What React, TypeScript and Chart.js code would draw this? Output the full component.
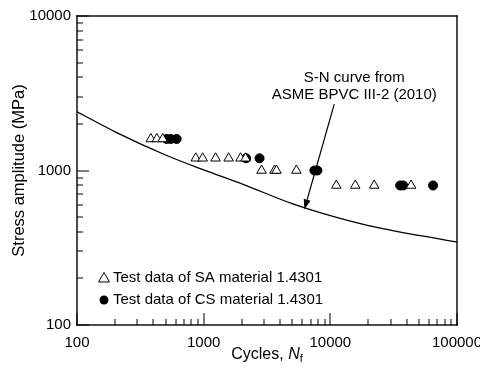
import React, { useEffect, useRef } from 'react';
import { Chart, registerables } from 'chart.js';
Chart.register(...registerables);

// ---- Data ----
const saCycles = [383, 427, 475, 866, 982, 1242, 1574, 1955, 2141, 2864, 3625, 3758, 5397, 11150, 15730, 22200, 43400];
const saStress = [1600, 1600, 1600, 1200, 1200, 1200, 1200, 1200, 1200, 1000, 1000, 1000, 1000, 800, 800, 800, 800];

const csCycles = [511, 550, 612, 2163, 2762, 7480, 7906, 35600, 37600, 64700];
const csStress = [1600, 1600, 1600, 1200, 1200, 1000, 1000, 800, 800, 800];

const curveCycles = [100, 200, 500, 1000, 2000, 5000, 10000, 20000, 50000, 100000];
const curveStress = [2400, 1780, 1260, 1010, 820, 610, 510, 440, 380, 345];

const xMajorTicks = [100, 1000, 10000, 100000];
const yMajorTicks = [100, 1000, 10000];

const saLabel = 'Test data of SA material 1.4301';
const csLabel = 'Test data of CS material 1.4301';
const noteLines = ['S-N curve from', 'ASME BPVC III-2 (2010)'];
const noteAnchorN = 15450;
const arrowTail = { n: 10740, s: 2692 };
const arrowTip = { n: 6240, s: 560 };

const FONT = "Arial, 'Liberation Sans', sans-serif";

const decorPlugin = {
  id: 'decor',
  afterDraw(chart: any) {
    const ctx: CanvasRenderingContext2D = chart.ctx;
    const ca = chart.chartArea;
    const left = ca.left, right = ca.right, top = ca.top, bottom = ca.bottom;
    const x = chart.scales.x;
    const y = chart.scales.y;
    ctx.save();
    ctx.strokeStyle = '#000000';
    ctx.fillStyle = '#000000';

    // frame as filled bars
    const lw = 1.4;
    ctx.fillRect(left - lw / 2, top - lw / 2, right - left + lw, lw);
    ctx.fillRect(left - lw / 2, bottom - lw / 2, right - left + lw, lw);
    ctx.fillRect(left - lw / 2, top - lw / 2, lw, bottom - top + lw);
    ctx.fillRect(right - lw / 2, top - lw / 2, lw, bottom - top + lw);

    // inward ticks as filled bars
    for (let e = 2; e <= 5; e++) {
      for (let m = 1; m <= 9; m++) {
        const v = m * Math.pow(10, e);
        if (v > 100000) break;
        const px = Math.round(x.getPixelForValue(v));
        const len = m === 1 ? 12 : 6;
        ctx.fillRect(px - 0.5, bottom - len, 1, len);
      }
    }
    for (let e = 2; e <= 4; e++) {
      for (let m = 1; m <= 9; m++) {
        const v = m * Math.pow(10, e);
        if (v > 10000) break;
        const py = Math.round(y.getPixelForValue(v));
        const len = m === 1 ? 12 : 6;
        ctx.fillRect(left, py - 0.5, len, 1);
      }
    }

    // axis titles
    const t1 = 'Cycles, ';
    const t2 = 'N';
    const t3 = 'f';
    ctx.font = `16px ${FONT}`;
    const w1 = ctx.measureText(t1).width;
    ctx.font = `italic 16px ${FONT}`;
    const w2 = ctx.measureText(t2).width;
    ctx.font = `11px ${FONT}`;
    const w3 = ctx.measureText(t3).width;
    const cx = (left + right) / 2;
    const sx = cx - (w1 + w2 + w3) / 2;
    const by = 359;
    ctx.textAlign = 'left';
    ctx.textBaseline = 'alphabetic';
    ctx.font = `16px ${FONT}`;
    ctx.fillText(t1, sx, by);
    ctx.font = `italic 16px ${FONT}`;
    ctx.fillText(t2, sx + w1, by);
    ctx.font = `11px ${FONT}`;
    ctx.fillText(t3, sx + w1 + w2, by + 3);

    ctx.save();
    ctx.translate(19, (top + bottom) / 2);
    ctx.rotate(-Math.PI / 2);
    ctx.font = `16.5px ${FONT}`;
    ctx.textAlign = 'center';
    ctx.textBaseline = 'middle';
    ctx.fillText('Stress amplitude (MPa)', 0, 0);
    ctx.restore();

    // legend
    const lx = left + 27;
    const rows = [
      { y: bottom - 47, label: saLabel, tri: true },
      { y: bottom - 25, label: csLabel, tri: false },
    ];
    ctx.font = `15px ${FONT}`;
    ctx.textAlign = 'left';
    ctx.textBaseline = 'middle';
    rows.forEach((r) => {
      ctx.lineWidth = 1;
      if (r.tri) {
        ctx.beginPath();
        ctx.moveTo(lx, r.y - 5.5);
        ctx.lineTo(lx + 5.5, r.y + 4);
        ctx.lineTo(lx - 5.5, r.y + 4);
        ctx.closePath();
        ctx.stroke();
      } else {
        ctx.beginPath();
        ctx.arc(lx, r.y, 4.5, 0, Math.PI * 2);
        ctx.fill();
      }
      ctx.fillText(r.label, lx + 9, r.y);
    });

    // annotation text
    const tx = x.getPixelForValue(noteAnchorN);
    ctx.font = `15px ${FONT}`;
    ctx.textAlign = 'center';
    ctx.textBaseline = 'middle';
    ctx.fillText(noteLines[0], tx, 78);
    ctx.fillText(noteLines[1], tx, 95);

    // arrow
    const ax0 = x.getPixelForValue(arrowTail.n);
    const ay0 = y.getPixelForValue(arrowTail.s);
    const ax1 = x.getPixelForValue(arrowTip.n);
    const ay1 = y.getPixelForValue(arrowTip.s);
    const ang = Math.atan2(ay1 - ay0, ax1 - ax0);
    const hl = 10, hw = 3.5;
    const bx = ax1 - hl * Math.cos(ang);
    const byy = ay1 - hl * Math.sin(ang);
    ctx.lineWidth = 1.2;
    ctx.beginPath();
    ctx.moveTo(ax0, ay0);
    ctx.lineTo(bx, byy);
    ctx.stroke();
    ctx.beginPath();
    ctx.moveTo(ax1, ay1);
    ctx.lineTo(bx + hw * Math.sin(ang), byy - hw * Math.cos(ang));
    ctx.lineTo(bx - hw * Math.sin(ang), byy + hw * Math.cos(ang));
    ctx.closePath();
    ctx.fill();
    ctx.restore();
  },
};

export default function App() {
  const ref = useRef<HTMLCanvasElement | null>(null);
  useEffect(() => {
    document.body.style.margin = '0';
    const canvas = ref.current!;
    const chart = new Chart(canvas, {
      type: 'scatter',
      data: {
        datasets: [
          {
            label: 'ASME',
            type: 'line',
            data: curveCycles.map((n, i) => ({ x: n, y: curveStress[i] })),
            borderColor: '#000',
            borderWidth: 1.3,
            pointRadius: 0,
            tension: 0.4,
            cubicInterpolationMode: 'monotone',
            fill: false,
          } as any,
          {
            label: saLabel,
            data: saCycles.map((n, i) => ({ x: n, y: saStress[i] })),
            pointStyle: 'triangle',
            pointRadius: 5.5,
            borderColor: '#000',
            backgroundColor: '#fff',
            borderWidth: 1,
          },
          {
            label: csLabel,
            data: csCycles.map((n, i) => ({ x: n, y: csStress[i] })),
            pointStyle: 'circle',
            pointRadius: 4.5,
            borderColor: '#000',
            backgroundColor: '#000',
            borderWidth: 1,
          },
        ],
      },
      options: {
        animation: false,
        responsive: false,
        maintainAspectRatio: false,
        layout: { padding: { top: 16, right: 23, left: 0, bottom: 0 } },
        plugins: { legend: { display: false }, tooltip: { enabled: false } },
        scales: {
          x: {
            type: 'logarithmic',
            min: 100,
            max: 100000,
            grid: { display: false, drawTicks: false },
            border: { display: false },
            afterBuildTicks: (s: any) => {
              s.ticks = xMajorTicks.map((v) => ({ value: v }));
            },
            afterFit: (s: any) => {
              s.height = 42;
              s.paddingLeft = 0;
              s.paddingRight = 0;
            },
            ticks: {
              autoSkip: false,
              maxRotation: 0,
              padding: 9,
              color: '#000',
              font: { family: FONT, size: 15 },
              callback: (v: any) => String(v),
            },
          },
          y: {
            type: 'logarithmic',
            min: 100,
            max: 10000,
            grid: { display: false, drawTicks: false },
            border: { display: false },
            afterBuildTicks: (s: any) => {
              s.ticks = yMajorTicks.map((v) => ({ value: v }));
            },
            afterFit: (s: any) => {
              s.width = 77;
              s.paddingTop = 0;
              s.paddingBottom = 0;
            },
            ticks: {
              autoSkip: false,
              padding: 6,
              color: '#000',
              font: { family: FONT, size: 15 },
              callback: (v: any) => String(v),
            },
          },
        },
      },
      plugins: [decorPlugin],
    });
    return () => chart.destroy();
  }, []);
  return (
    <div style={{ position: 'fixed', left: 0, top: 0, width: 480, height: 367, background: '#fff' }}>
      <canvas ref={ref} width={480} height={367} style={{ display: 'block' }} />
    </div>
  );
}
